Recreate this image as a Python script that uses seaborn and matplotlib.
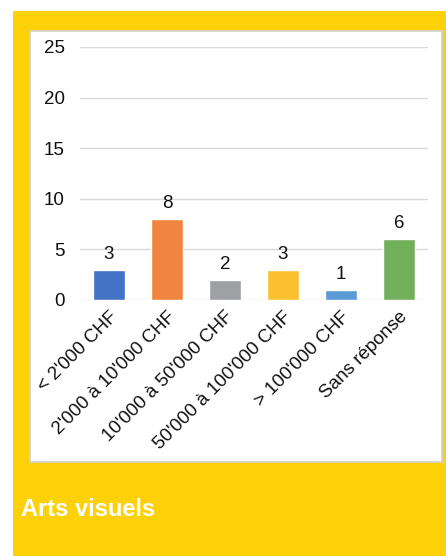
import matplotlib
matplotlib.use("Agg")
import matplotlib.pyplot as plt
import matplotlib.patches as patches
import pandas as pd
import seaborn as sns

# revenue classes and number of answers
categories = ["< 2'000 CHF", "2'000 à 10'000 CHF", "10'000 à 50'000 CHF",
              "50'000 à 100'000 CHF", "> 100'000 CHF", "Sans réponse"]
counts = [3, 8, 2, 3, 1, 6]
bar_colors = ["#4472C4", "#F08440", "#9EA0A3", "#FBC02D", "#5B9BD5", "#72AF5A"]
y_ticks = [0, 5, 10, 15, 20, 25]
title = "Arts visuels"

sns.set_style("white")
plt.rcParams["font.family"] = ["Liberation Sans", "DejaVu Sans"]

W, H = 446, 556
fig = plt.figure(figsize=(W / 100, H / 100), dpi=100)
fig.patch.set_facecolor("white")

# yellow frame and white panel behind the chart
fig.add_artist(patches.Rectangle((13 / W, 0), 1 - 13 / W, 1 - 11 / H,
                                 transform=fig.transFigure, facecolor="#FDD107",
                                 edgecolor="none", zorder=-2))
fig.add_artist(patches.Rectangle((30 / W, 1 - 462 / H), 412 / W, 431 / H,
                                 transform=fig.transFigure, facecolor="white",
                                 edgecolor="#D0D0D0", lw=1.2, zorder=-1))

ax = fig.add_axes([80 / W, 1 - 300 / H, 348 / W, 253 / H])
ax.set_zorder(2)
ax.set_facecolor("none")

df = pd.DataFrame({"cat": categories, "n": counts})
sns.barplot(data=df, x="cat", y="n", hue="cat", palette=bar_colors,
            legend=False, width=0.55, saturation=1, ax=ax, zorder=3)

for i, v in enumerate(counts):
    ax.text(i, v + 0.7, str(v), ha="center", va="bottom", fontsize=13.5,
            color="#111111")

ax.set_ylim(0, 25)
ax.set_xlim(-0.5, len(categories) - 0.5)
ax.set_yticks(y_ticks)
ax.yaxis.grid(True, color="#D9D9D9", lw=1)
ax.set_axisbelow(True)
for s in ax.spines.values():
    s.set_visible(False)
ax.tick_params(axis="both", length=0, labelsize=13.5, colors="#111111")
ax.tick_params(axis="y", pad=11)
ax.tick_params(axis="x", pad=6)
ax.set_xticks(range(len(categories)))
ax.set_xticklabels(categories, rotation=45, ha="right", va="top",
                   rotation_mode="anchor")
ax.set_xlabel("")
ax.set_ylabel("")

fig.text(21 / W, 1 - 509 / H, title, color="white", fontsize=17,
         fontweight="bold", ha="left", va="center")

fig.savefig("out.png", dpi=100)
